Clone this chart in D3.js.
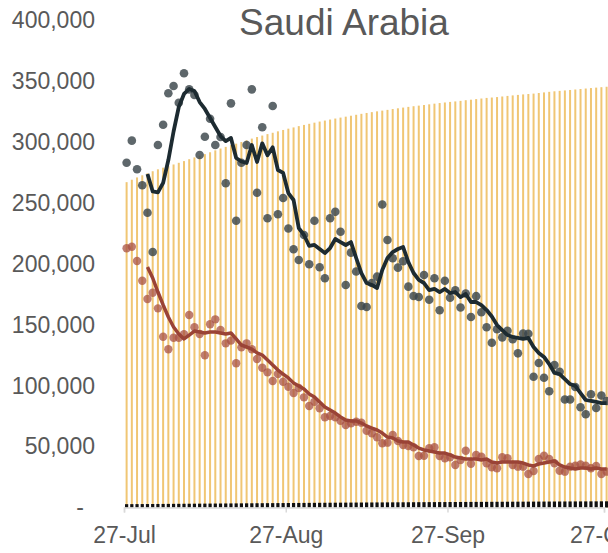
<!DOCTYPE html>
<html>
<head>
<meta charset="utf-8">
<script src="https://cdn.jsdelivr.net/npm/d3@7"></script>
<style>
  body { margin: 0; background: #fff; overflow: hidden; }
  svg { display: block; font-family: "Liberation Sans", Arial, sans-serif; }
</style>
</head>
<body>
<div id="chart"></div>
<script>
// Data, one value per day starting 27-Jul
const startDate = new Date(2020, 6, 27);

const cumCases = [
  266941, 268934, 270831, 272590, 274219, 275905, 277478, 278835, 280093, 281456,
  282824, 284226, 285793, 287262, 288690, 289947, 291468, 293037, 294519, 295902,
  297315, 298542, 299914, 301323, 302686, 303973, 305186, 306370, 307479, 308654,
  309768, 310836, 311855, 312924, 313911, 314821, 315772, 316670, 317486, 318319,
  319141, 319932, 320688, 321456, 322237, 323012, 323720, 324407, 325050, 325651,
  326258, 326930, 327551, 328144, 328720, 329271, 329754, 330246, 330798, 331359,
  331857, 332329, 332790, 333193, 333648, 334187, 334605, 335097, 335578, 336066,
  336387, 336766, 337243, 337711, 338132, 338539, 338944, 339267, 339615, 340089,
  340590, 341062, 341495, 341854, 342202, 342583, 342968, 343373, 343774, 344157,
  344527, 344875, 345232
];

const cumDeaths = [
  2733, 2760, 2789, 2817, 2842, 2872, 2901, 2932, 2964, 2994,
  3025, 3059, 3092, 3124, 3153, 3184, 3214, 3243, 3274, 3307,
  3337, 3369, 3399, 3430, 3460, 3492, 3523, 3553, 3582, 3613,
  3645, 3677, 3708, 3737, 3767, 3797, 3826, 3855, 3884, 3911,
  3940, 3967, 3995, 4022, 4049, 4076, 4102, 4128, 4153, 4179,
  4204, 4229, 4255, 4280, 4304, 4329, 4353, 4378, 4401, 4425,
  4448, 4472, 4494, 4517, 4539, 4561, 4583, 4605, 4626, 4647,
  4668, 4689, 4709, 4730, 4750, 4771, 4790, 4810, 4830, 4850,
  4869, 4888, 4907, 4926, 4945, 4964, 4983, 5001, 5020, 5038,
  5056, 5074, 5092
];

const grayDaily = [
  282900, 301000, 277500, 264400, 241900, 209600, 297400, 314100, 339900, 345800,
  332100, 356300, 343100, 338500, 289200, 304200, 319000, 297400, 304000, 266000,
  331600, 235300, 282900, 297400, 343100, 258300, 312000, 237300, 329400, 240600,
  253900, 228900, 211900, 203100, 223600, 199600, 235300, 197100, 188100, 237300,
  242600, 226300, 182600, 209100, 193600, 165300, 164500, 184200, 189400, 248600,
  219500, 204500, 196800, 202100, 181200, 173500, 172700, 190800, 170500, 188100,
  161900, 186100, 172100, 178200, 164100, 175600, 156300, 173400, 160200, 147900,
  135200, 146200, 139600, 145000, 138000, 126500, 142800, 142500, 107300, 118600,
  106500, 95400, 116900, 111400, 88600, 88600, 98900, 82200, 76500, 92900,
  81600, 91900, 87400
];

const grayAvg = [
  null, null, null, null, 273600, 259300, 258500, 266300, 285100, 308500,
  328600, 339300, 343400, 341700, 332700, 327000, 319600, 312200, 304800, 300700,
  303200, 286800, 283900, 282700, 297400, 283500, 298800, 289000, 295500, 276900,
  274500, 258000, 252300, 229300, 223600, 214600, 215400, 212100, 208800, 212900,
  220300, 217800, 215400, 217800, 204700, 192400, 184200, 182600, 180100, 194900,
  204700, 209600, 212100, 213700, 201400, 192400, 186700, 184200, 178400, 179300,
  176800, 179300, 176000, 176800, 172700, 175200, 168600, 168600, 166100, 162000,
  156700, 149700, 145600, 141500, 139900, 139100, 138300, 139100, 131700, 126800,
  123500, 117700, 110400, 109500, 105400, 101300, 99700, 93900, 88200, 87400,
  86600, 85700, 85700
];

const redDaily = [
  212700, 214000, 202300, 186100, 171100, 176200, 163400, 140100, 129800, 139300,
  139300, 142100, 157900, 147900, 142400, 124900, 150300, 154400, 145600, 134700,
  136900, 118300, 131400, 134700, 129800, 121800, 114700, 110900, 103800, 109500,
  103200, 99100, 93900, 98000, 90400, 83300, 86800, 81400, 74000, 75100,
  74000, 71200, 67700, 69100, 70400, 69600, 63000, 60900, 57600, 52700,
  53200, 59500, 54600, 51300, 50500, 49400, 42300, 42500, 48600, 49400,
  42300, 40400, 41200, 34900, 39000, 46600, 35900, 43100, 41700, 36300,
  33000, 32200, 41200, 40400, 34900, 33500, 33500, 27500, 29900, 39800,
  42500, 39800, 36300, 30200, 29400, 33500, 34300, 35400, 34300, 32200,
  34100, 27500, 29400
];

const redAvg = [
  null, null, null, null, 197300, 188300, 176800, 166200, 156300, 148100,
  142400, 138300, 141500, 144800, 144000, 143200, 144000, 144000, 143200, 142400,
  143200, 138300, 133300, 131700, 130000, 126800, 125100, 121000, 116900, 112800,
  109500, 106300, 102200, 99700, 97200, 93100, 90700, 86600, 82500, 80000,
  77500, 74300, 71800, 71000, 71000, 69300, 66900, 65200, 63600, 61100,
  57800, 57000, 54600, 53700, 53700, 51300, 48800, 47200, 46400, 45500,
  44700, 44700, 43100, 41400, 40600, 39800, 39800, 39800, 39000, 39800,
  37300, 36500, 37300, 37300, 37300, 37300, 36500, 34900, 34100, 35700,
  36500, 37300, 38200, 34900, 33200, 32400, 31600, 32400, 32400, 31600,
  32400, 31600, 31600
];

const yTicks = [0, 50000, 100000, 150000, 200000, 250000, 300000, 350000, 400000];
const xTicks = [new Date(2020, 6, 27), new Date(2020, 7, 27), new Date(2020, 8, 27), new Date(2020, 9, 27)];

// Layout
const width = 608, height = 553;
const textColor = "#595959";

const svg = d3.select("#chart").append("svg")
  .attr("width", width)
  .attr("height", height);

const x = d3.scaleTime()
  .domain([new Date(2020, 6, 27), new Date(2020, 9, 27)])
  .range([124, 604]);
const y = d3.scaleLinear().domain([0, 400000]).range([507.5, 20]);

const days = cumCases.map((d, i) => d3.timeDay.offset(startDate, i));
const dayW = x(days[1]) - x(days[0]);
const cx = i => x(days[i]) + dayW / 2;

// Cumulative bars
svg.append("g").selectAll("rect")
  .data(cumCases)
  .join("rect")
  .attr("x", (d, i) => cx(i) - 1)
  .attr("width", 2)
  .attr("y", d => y(d))
  .attr("height", d => y(0) - y(d))
  .attr("fill", "#f0c674");

svg.append("g").selectAll("rect")
  .data(cumDeaths)
  .join("rect")
  .attr("x", (d, i) => cx(i) - 1.6)
  .attr("width", 3.2)
  .attr("y", d => y(d))
  .attr("height", d => y(0) - y(d))
  .attr("fill", "#111");

// X axis
const xAxis = svg.append("g")
  .attr("transform", `translate(0,${y(0)})`)
  .call(d3.axisBottom(x).tickValues(xTicks).tickFormat(d3.timeFormat("%d-%b")).tickSize(5).tickPadding(14));
xAxis.select(".domain").attr("stroke", "#d9d9d9").attr("stroke-width", 1.5);
xAxis.selectAll(".tick line").attr("stroke", "#d9d9d9").attr("stroke-width", 1.5);
xAxis.selectAll("text").attr("font-size", 23).attr("fill", textColor)
  .style("font-family", "'Liberation Sans', Arial, sans-serif");

// Y axis
const yAxis = svg.append("g")
  .attr("transform", "translate(97,0)")
  .call(d3.axisLeft(y).tickValues(yTicks).tickSize(0).tickPadding(2)
    .tickFormat(d => d === 0 ? "-" : d3.format(",")(d)));
yAxis.select(".domain").remove();
yAxis.selectAll("text").attr("font-size", 23).attr("fill", textColor)
  .style("font-family", "'Liberation Sans', Arial, sans-serif")
  .attr("dx", d => d === 0 ? -11 : 0);

// Dots
const redG = svg.append("g");
redG.selectAll("circle")
  .data(redDaily)
  .join("circle")
  .attr("cx", (d, i) => cx(i))
  .attr("cy", d => y(d))
  .attr("r", 4.2)
  .attr("fill", "#a85243")
  .attr("fill-opacity", 0.75);

const grayG = svg.append("g");
grayG.selectAll("circle")
  .data(grayDaily)
  .join("circle")
  .attr("cx", (d, i) => cx(i))
  .attr("cy", d => y(d))
  .attr("r", 4.3)
  .attr("fill", "#3a454a")
  .attr("fill-opacity", 0.82);

// Average lines
const line = d3.line()
  .defined(d => d != null)
  .x((d, i) => cx(i))
  .y(d => y(d));

svg.append("path")
  .datum(redAvg)
  .attr("fill", "none")
  .attr("stroke", "#9a4336")
  .attr("stroke-width", 3.5)
  .attr("stroke-linejoin", "round")
  .attr("d", line);

svg.append("path")
  .datum(grayAvg)
  .attr("fill", "none")
  .attr("stroke", "#1d2b31")
  .attr("stroke-width", 3.8)
  .attr("stroke-linejoin", "round")
  .attr("d", line);

// Title
svg.append("text")
  .attr("x", 344)
  .attr("y", 35)
  .attr("text-anchor", "middle")
  .attr("font-size", 37)
  .attr("fill", textColor)
  .text("Saudi Arabia");
</script>
</body>
</html>
